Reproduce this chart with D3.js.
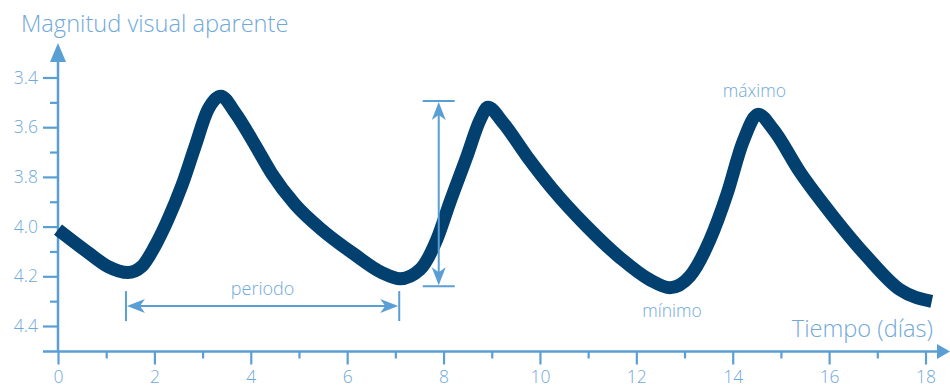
<!DOCTYPE html>
<html>
<head>
<meta charset="utf-8">
<script src="https://cdn.jsdelivr.net/npm/d3@7"></script>
<style>
  html, body { margin: 0; padding: 0; background: #fff; }
  svg { display: block; }
  text { font-family: "Open Sans", sans-serif; font-weight: 300; }
</style>
</head>
<body>
<svg id="chart" width="950" height="387"></svg>
<script>
// ---- data ----
const timeDays = [0, 0.63, 1.04, 1.45, 1.74, 2.01, 2.28, 2.57, 2.84, 3.11, 3.38, 3.67, 4.09, 4.43, 4.92, 5.47, 6.16, 6.72, 7.10, 7.51, 7.86, 8.13, 8.48, 8.76, 8.92, 9.23, 9.73, 10.27, 10.97, 11.66, 12.28, 12.70, 13.11, 13.53, 13.88, 14.21, 14.53, 14.84, 15.40, 16.08, 16.78, 17.47, 18.13];
const magnitude = [4.012, 4.105, 4.161, 4.185, 4.160, 4.079, 3.972, 3.835, 3.680, 3.530, 3.475, 3.540, 3.672, 3.785, 3.911, 4.012, 4.113, 4.185, 4.210, 4.173, 4.052, 3.903, 3.720, 3.570, 3.520, 3.581, 3.717, 3.851, 3.999, 4.125, 4.214, 4.246, 4.200, 4.052, 3.870, 3.660, 3.548, 3.609, 3.782, 3.958, 4.120, 4.254, 4.301];
const xTickValues = [0, 2, 4, 6, 8, 10, 12, 14, 16, 18];
const xMinorTicks = [1, 3, 5, 7, 9, 11, 13, 15, 17];
const yTickValues = [3.4, 3.6, 3.8, 4.0, 4.2, 4.4];
const yMinorTicks = [3.5, 3.7, 3.9, 4.1, 4.3];
const yTitle = "Magnitud visual aparente";
const xTitle = "Tiempo (días)";
// annotations (data coordinates)
const periodStart = 1.41, periodEnd = 7.08, periodMag = 4.32;
const ampDay = 7.9, ampTop = 3.495, ampBottom = 4.24;
const maxLabel = { t: 14.45, m: 3.478, text: "máximo" };
const minLabel = { t: 12.74, m: 4.362, text: "mínimo" };
const periodLabel = "periodo";

// ---- layout ----
const axisColor = "#5a9fd4";
const textColor = "#6fa9da";
const curveColor = "#02406f";

const svg = d3.select("#chart");
const x = d3.scaleLinear().domain([0, 18]).range([58, 925.5]);
const y = d3.scaleLinear().domain([3.4, 4.4]).range([77.5, 326]);
const xAxisY = 351.5;
const yAxisX = 58;

// x axis (major + minor ticks)
const gx = svg.append("g").attr("transform", `translate(0,${xAxisY})`)
  .call(d3.axisBottom(x).tickValues(xTickValues).tickSize(13).tickPadding(6).tickFormat(d3.format("d")));
const gxm = svg.append("g").attr("transform", `translate(0,${xAxisY})`)
  .call(d3.axisBottom(x).tickValues(xMinorTicks).tickSize(7).tickFormat(""));
// y axis
const gy = svg.append("g").attr("transform", `translate(${yAxisX},0)`)
  .call(d3.axisLeft(y).tickValues(yTickValues).tickSize(15).tickPadding(5).tickFormat(d3.format(".1f")));
const gym = svg.append("g").attr("transform", `translate(${yAxisX},0)`)
  .call(d3.axisLeft(y).tickValues(yMinorTicks).tickSize(8).tickFormat(""));

[gx, gxm, gy, gym].forEach(g => {
  g.select(".domain").remove();
  g.selectAll(".tick line").attr("stroke", axisColor).attr("stroke-width", 2.2);
  g.selectAll(".tick text").attr("fill", textColor).attr("font-size", 17.5)
    .attr("font-family", "'Open Sans', sans-serif").attr("font-weight", 300);
});

// axis lines with arrows
svg.append("line").attr("x1", 43).attr("x2", 940).attr("y1", xAxisY).attr("y2", xAxisY)
  .attr("stroke", axisColor).attr("stroke-width", 2.5);
svg.append("path").attr("d", `M950,${xAxisY} L937,${xAxisY - 7.5} L937,${xAxisY + 7.5} Z`).attr("fill", axisColor);
svg.append("line").attr("x1", yAxisX).attr("x2", yAxisX).attr("y1", 55).attr("y2", xAxisY)
  .attr("stroke", axisColor).attr("stroke-width", 2.5);
svg.append("path").attr("d", `M${yAxisX},43 L${yAxisX - 8},62 L${yAxisX + 8},62 Z`).attr("fill", axisColor);

// axis titles
svg.append("text").attr("x", 21).attr("y", 32).attr("fill", textColor)
  .attr("font-size", 23.6).text(yTitle);
svg.append("text").attr("x", 933).attr("y", 337).attr("text-anchor", "end").attr("fill", textColor)
  .attr("font-size", 23.6).text(xTitle);

// curve
const pts = timeDays.map((t, i) => [t, magnitude[i]]);
svg.append("path").datum(pts)
  .attr("d", d3.line().x(d => x(d[0])).y(d => y(d[1])).curve(d3.curveMonotoneX))
  .attr("fill", "none").attr("stroke", curveColor).attr("stroke-width", 13)
  .attr("stroke-linejoin", "round").attr("stroke-linecap", "butt");

// period annotation
const py = y(periodMag), px1 = x(periodStart), px2 = x(periodEnd);
const ann = svg.append("g").attr("stroke", axisColor).attr("fill", axisColor);
ann.append("line").attr("x1", px1 + 10).attr("x2", px2 - 10).attr("y1", py).attr("y2", py).attr("stroke-width", 2);
ann.append("line").attr("x1", px1).attr("x2", px1).attr("y1", py - 15).attr("y2", py + 15).attr("stroke-width", 2);
ann.append("line").attr("x1", px2).attr("x2", px2).attr("y1", py - 15).attr("y2", py + 15).attr("stroke-width", 2);
ann.append("path").attr("stroke", "none").attr("d", `M${px1 + 1},${py} L${px1 + 19},${py - 7} L${px1 + 14},${py} L${px1 + 19},${py + 7} Z`);
ann.append("path").attr("stroke", "none").attr("d", `M${px2 - 1},${py} L${px2 - 19},${py - 7} L${px2 - 14},${py} L${px2 - 19},${py + 7} Z`);
svg.append("text").attr("x", (px1 + px2) / 2).attr("y", py - 11).attr("text-anchor", "middle")
  .attr("fill", textColor).attr("font-size", 18).text(periodLabel);

// amplitude annotation
const ax = x(ampDay), ay1 = y(ampTop), ay2 = y(ampBottom);
ann.append("line").attr("x1", ax).attr("x2", ax).attr("y1", ay1 + 10).attr("y2", ay2 - 10).attr("stroke-width", 2);
ann.append("line").attr("x1", ax - 16).attr("x2", ax + 16).attr("y1", ay1).attr("y2", ay1).attr("stroke-width", 2);
ann.append("line").attr("x1", ax - 16).attr("x2", ax + 16).attr("y1", ay2).attr("y2", ay2).attr("stroke-width", 2);
ann.append("path").attr("stroke", "none").attr("d", `M${ax},${ay1 + 1} L${ax - 7},${ay1 + 19} L${ax},${ay1 + 14} L${ax + 7},${ay1 + 19} Z`);
ann.append("path").attr("stroke", "none").attr("d", `M${ax},${ay2 - 1} L${ax - 7},${ay2 - 19} L${ax},${ay2 - 14} L${ax + 7},${ay2 - 19} Z`);

// max / min labels
[maxLabel, minLabel].forEach(l => {
  svg.append("text").attr("x", x(l.t)).attr("y", y(l.m)).attr("text-anchor", "middle")
    .attr("fill", textColor).attr("font-size", 17.5).text(l.text);
});
</script>
</body>
</html>
